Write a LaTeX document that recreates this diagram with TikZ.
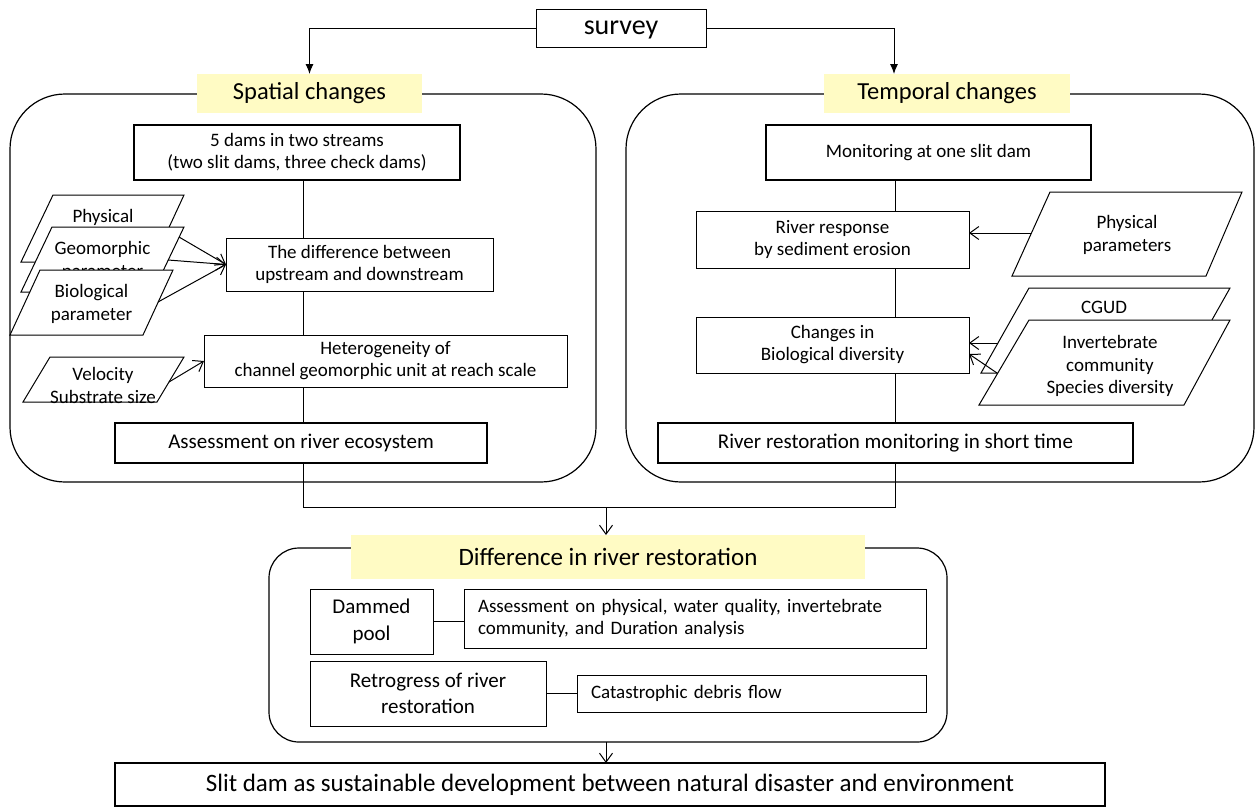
\documentclass[tikz,border=0pt]{standalone}
\usepackage{fontspec}
\setmainfont{Carlito}
\usetikzlibrary{arrows.meta}
\definecolor{ylw}{HTML}{FFFBC4}
\begin{document}
\begin{tikzpicture}[x=1pt,y=-1pt,
  every node/.style={inner sep=0pt, outer sep=0pt},
  box/.style={draw, line width=1pt, align=center, font=\fontsize{19}{22}\selectfont},
  tbox/.style={draw, line width=2.6pt, align=center},
  lbl/.style={fill=ylw, font=\fontsize{24.5}{28}\selectfont},
  cont/.style={draw, line width=1.2pt, rounded corners=55pt},
  para/.style={draw, line width=1pt, fill=white},
  ptxt/.style={align=center, font=\fontsize{19}{23}\selectfont},
  ln/.style={line width=1pt},
  arr/.style={line width=1pt, -{Straight Barb[length=9pt,width=13pt]}},
  farr/.style={line width=1pt, -{Latex[length=10pt,width=8pt]}}
]
\useasboundingbox (0,0) rectangle (1255,807);

% containers
\node[cont, minimum width=586pt, minimum height=388pt] (spaceBox) at (303,288) {};
\node[cont, minimum width=628pt, minimum height=388pt] (timeBox) at (940,288) {};
\node[cont, rounded corners=30pt, minimum width=678pt, minimum height=194pt] (botBox) at (608,645) {};

% top
\node[box, font=\fontsize{28}{32}\selectfont, text depth=0pt, minimum width=170pt, minimum height=38pt] (survey) at (621,28) {survey};
\node[lbl, minimum width=225pt, minimum height=39pt] (spatial) at (309.5,93.5) {Spatial changes};
\node[lbl, minimum width=246pt, minimum height=39pt] (temporal) at (947,93.5) {Temporal changes};
\coordinate (tR) at (894,74);
\draw[farr] (survey.west) -| (spatial.north);
\draw[farr] (survey.east) -| (tR);

% left column
\node[tbox, font=\fontsize{19}{22}\selectfont, minimum width=326pt, minimum height=55pt] (dams) at (297,152.5) {5 dams in two streams\\(two slit dams, three check dams)};
\node[box, minimum width=267pt, minimum height=53pt] (diffUD) at (359.5,264.5) {The difference between\\upstream and downstream};
\node[box, minimum width=363pt, minimum height=52pt] (hetero) at (385.5,361) {Heterogeneity of\\channel geomorphic unit at reach scale};
\node[tbox, font=\fontsize{21}{25}\selectfont, minimum width=372pt, minimum height=40pt] (assessL) at (301,443) {Assessment on river ecosystem};
\coordinate (cl) at (303,0);
\draw[ln] (dams.south -| cl) -- (diffUD.north -| cl);
\draw[ln] (diffUD.south -| cl) -- (hetero.north -| cl);
\draw[ln] (hetero.south -| cl) -- (assessL.north -| cl);

% left parallelograms
\coordinate (p1a) at (53,195); \coordinate (p1b) at (184,195); \coordinate (p1c) at (153,262); \coordinate (p1d) at (21,262);
\draw[para] (p1a) -- (p1b) -- (p1c) -- (p1d) -- cycle;
\node[ptxt] (phys) at (103,229) {Physical\\parameter};
\coordinate (p2a) at (52,227); \coordinate (p2b) at (184,227); \coordinate (p2c) at (153,292); \coordinate (p2d) at (21,292);
\draw[para] (p2a) -- (p2b) -- (p2c) -- (p2d) -- cycle;
\node[ptxt] (geom) at (102.5,260.5) {Geomorphic\\parameter};
\coordinate (p3a) at (40,270); \coordinate (p3b) at (173,270); \coordinate (p3c) at (143,335); \coordinate (p3d) at (10,335);
\draw[para] (p3a) -- (p3b) -- (p3c) -- (p3d) -- cycle;
\node[ptxt] (bio) at (91.5,303.5) {Biological\\parameter};
\coordinate (p4a) at (50,357); \coordinate (p4b) at (184,357); \coordinate (p4c) at (157,402); \coordinate (p4d) at (23,402);
\draw[para] (p4a) -- (p4b) -- (p4c) -- (p4d) -- cycle;
\node[ptxt] (velo) at (103,385) {Velocity\\Substrate size};
\coordinate (g1) at (179,237); \coordinate (g2) at (168,260); \coordinate (b1) at (158,302); \coordinate (v1) at (169,382);
\draw[arr] (g1) -- (diffUD.west);
\draw[arr] (g2) -- (diffUD.west);
\draw[arr] (b1) -- (diffUD.west);
\draw[arr] (v1) -- (hetero.west);

% right column
\node[tbox, font=\fontsize{19}{22}\selectfont, minimum width=325pt, minimum height=55pt] (monit) at (928.5,152.5) {Monitoring at one slit dam};
\node[box, minimum width=273pt, minimum height=57pt] (resp) at (832.5,239.5) {River response\\by sediment erosion};
\node[box, minimum width=273pt, minimum height=56pt] (chg) at (832.5,345) {Changes in\\Biological diversity};
\node[tbox, font=\fontsize{21}{25}\selectfont, minimum width=475pt, minimum height=40pt] (rmon) at (895.5,443) {River restoration monitoring in short time};
\coordinate (cr) at (895,0);
\draw[ln] (monit.south -| cr) -- (resp.north -| cr);
\draw[ln] (resp.south -| cr) -- (chg.north -| cr);
\draw[ln] (chg.south -| cr) -- (rmon.north -| cr);

% right parallelograms
\coordinate (q1a) at (1050,192); \coordinate (q1b) at (1242,192); \coordinate (q1c) at (1206,276); \coordinate (q1d) at (1012,276);
\draw[para] (q1a) -- (q1b) -- (q1c) -- (q1d) -- cycle;
\node[ptxt] (pparam) at (1127,235) {Physical\\parameters};
\coordinate (q2a) at (1029,288); \coordinate (q2b) at (1230,288); \coordinate (q2c) at (1182,373); \coordinate (q2d) at (981,373);
\draw[para] (q2a) -- (q2b) -- (q2c) -- (q2d) -- cycle;
\node[ptxt] (cgud) at (1104,307) {CGUD};
\coordinate (q3a) at (1029,320); \coordinate (q3b) at (1230,320); \coordinate (q3c) at (1184,405); \coordinate (q3d) at (979,405);
\draw[para] (q3a) -- (q3b) -- (q3c) -- (q3d) -- cycle;
\node[ptxt, font=\fontsize{19}{22.5}\selectfont] (invert) at (1110,366) {Invertebrate\\community\\Species diversity};
\coordinate (pp) at (1031,233); \coordinate (c1) at (998,343); \coordinate (c2) at (997,373);
\draw[arr] (pp) -- (pp -| resp.east);
\draw[arr] (c1) -- (c1 -| chg.east);
\draw[arr] (c2) -- ([yshift=-9pt]chg.east);

% join
\coordinate (jL) at (303,507); \coordinate (jR) at (895,507); \coordinate (jM) at (606,507);
\draw[ln] (assessL.south -| cl) -- (jL) -- (jR) -- (rmon.south -| cr);

% bottom section
\node[lbl, font=\fontsize{25}{30}\selectfont, minimum width=514pt, minimum height=44pt] (diffLbl) at (608,557) {Difference in river restoration};
\draw[arr] (jM) -- (diffLbl.north -| jM);
\node[box, font=\fontsize{21}{27}\selectfont, minimum width=123pt, minimum height=65pt] (dammed) at (371.5,621.5) {Dammed\\pool};
\node[box, align=left, text width=434pt, inner xsep=14pt, minimum height=59pt] (apys) at (695,618.5) {Assessment on physical, water quality, invertebrate\\community, and Duration analysis};
\node[box, font=\fontsize{21}{26}\selectfont, minimum width=236pt, minimum height=65pt] (retro) at (428,693.5) {Retrogress of river\\restoration};
\node[box, align=left, text width=321pt, inner xsep=14pt, minimum height=37pt] (catas) at (751.5,693.5) {Catastrophic debris flow};
\draw[ln] (dammed.east) -- (dammed.east -| apys.west);
\draw[ln] (retro.east) -- (retro.east -| catas.west);

% final
\node[tbox, font=\fontsize{25}{30}\selectfont, minimum width=990pt, minimum height=43pt] (final) at (610,784.5) {Slit dam as sustainable development between natural disaster and environment};
\draw[arr] (botBox.south -| jM) -- (final.north -| jM);
\end{tikzpicture}
\end{document}
